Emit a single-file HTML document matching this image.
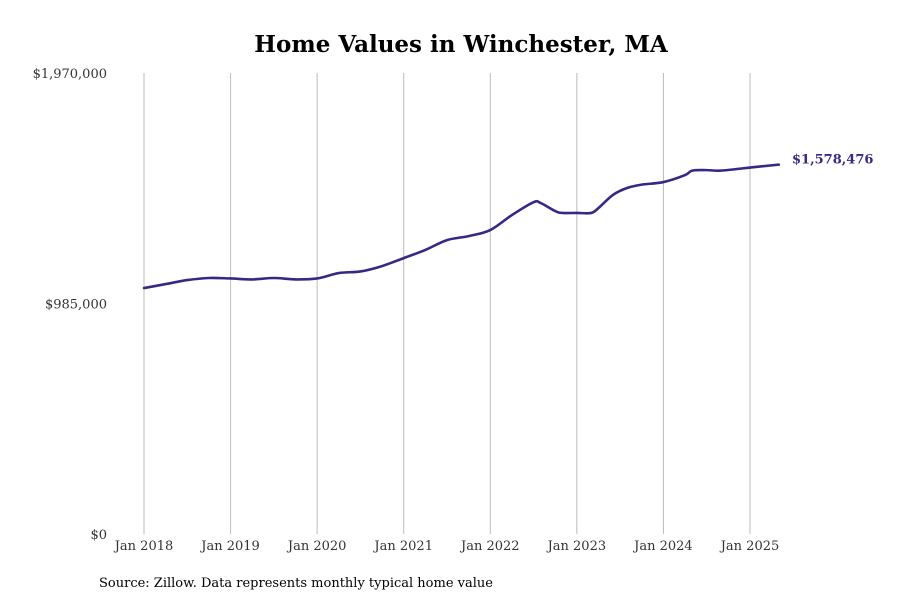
<!DOCTYPE html>
<html><head><meta charset="utf-8">
<style>
body{margin:0;background:#fff;}
svg{display:block;font-family:"DejaVu Serif","Liberation Serif",serif;}
</style></head>
<body>
<svg id="chart" width="900" height="600">
<text x="461" y="52" text-anchor="middle" font-size="23" font-weight="bold" fill="#000">Home Values in Winchester, MA</text>
<g id="grid"></g>
<g id="yaxis"></g>
<g id="xaxis"></g>
<g id="series"></g>
<text x="99" y="587" font-size="13" fill="#000">Source: Zillow. Data represents monthly typical home value</text>
</svg>
<script>
const dates = ["2018-01","2018-04","2018-07","2018-10","2019-01","2019-04","2019-07","2019-10","2020-01","2020-04","2020-07","2020-10","2021-01","2021-04","2021-07","2021-10","2022-01","2022-04","2022-07","2022-08","2022-10","2022-11","2023-01","2023-03","2023-04","2023-06","2023-08","2023-10","2024-01","2024-04","2024-05","2024-07","2024-09","2025-01","2025-05"];
const values = [1051000,1068000,1085000,1094000,1092000,1088000,1094000,1088000,1092000,1115000,1122000,1145000,1179000,1214000,1256000,1273000,1299000,1363000,1418000,1414000,1380000,1372000,1372000,1372000,1393000,1449000,1479000,1493000,1504000,1534000,1553000,1555000,1553000,1566000,1578476];
const yTicks = [0,985000,1970000];
const yTickLabels = ["$0","$985,000","$1,970,000"];
const xTickYears = [2018,2019,2020,2021,2022,2023,2024,2025];

const NS="http://www.w3.org/2000/svg";
const x0=144, monthW=(750-144)/84, yBase=534, yTop=73, yMax=1970000;
function mIdx(d){const [y,m]=d.split("-").map(Number);return (y-2018)*12+(m-1);}
function xs(d){return x0+mIdx(d)*monthW;}
function ys(v){return yBase-(v/yMax)*(yBase-yTop);}
function mk(tag,attrs,parent){const e=document.createElementNS(NS,tag);for(const k in attrs)e.setAttribute(k,attrs[k]);parent.appendChild(e);return e;}

const grid=document.getElementById("grid"), xa=document.getElementById("xaxis"), ya=document.getElementById("yaxis"), se=document.getElementById("series");
xTickYears.forEach(yr=>{
  const x=xs(yr+"-01");
  const l=mk("line",{x1:x,x2:x,y1:yTop,y2:yBase,stroke:"#bbb","stroke-width":1},grid);
  
  
  const t=mk("text",{x:x,y:550,"text-anchor":"middle","font-size":13,fill:"#333"},xa);
  t.textContent="Jan "+yr;
  
  
});
yTicks.forEach((v,i)=>{
  const t=mk("text",{x:107,y:ys(v)+5,"text-anchor":"end","font-size":13,fill:"#333"},ya);
  t.textContent=yTickLabels[i];
  
  
});
const pts=dates.map((d,i)=>[xs(d),ys(values[i])]);
let d="M"+pts[0][0]+","+pts[0][1];
for(let i=0;i<pts.length-1;i++){
  const p0=pts[Math.max(0,i-1)],p1=pts[i],p2=pts[i+1],p3=pts[Math.min(pts.length-1,i+2)];
  const c1=[p1[0]+(p2[0]-p0[0])/6,p1[1]+(p2[1]-p0[1])/6];
  const c2=[p2[0]-(p3[0]-p1[0])/6,p2[1]-(p3[1]-p1[1])/6];
  d+=" C"+c1+" "+c2+" "+p2;
}
const path=mk("path",{d:d,fill:"none",stroke:"#342a86","stroke-width":2.6,"stroke-linecap":"round"},se);


const last=pts[pts.length-1];
const lab=mk("text",{x:792,y:last[1]-1,"font-size":13,"font-weight":"bold",fill:"#342a86"},se);
lab.textContent="$"+values[values.length-1].toLocaleString("en-US");


</script>
</body></html>
